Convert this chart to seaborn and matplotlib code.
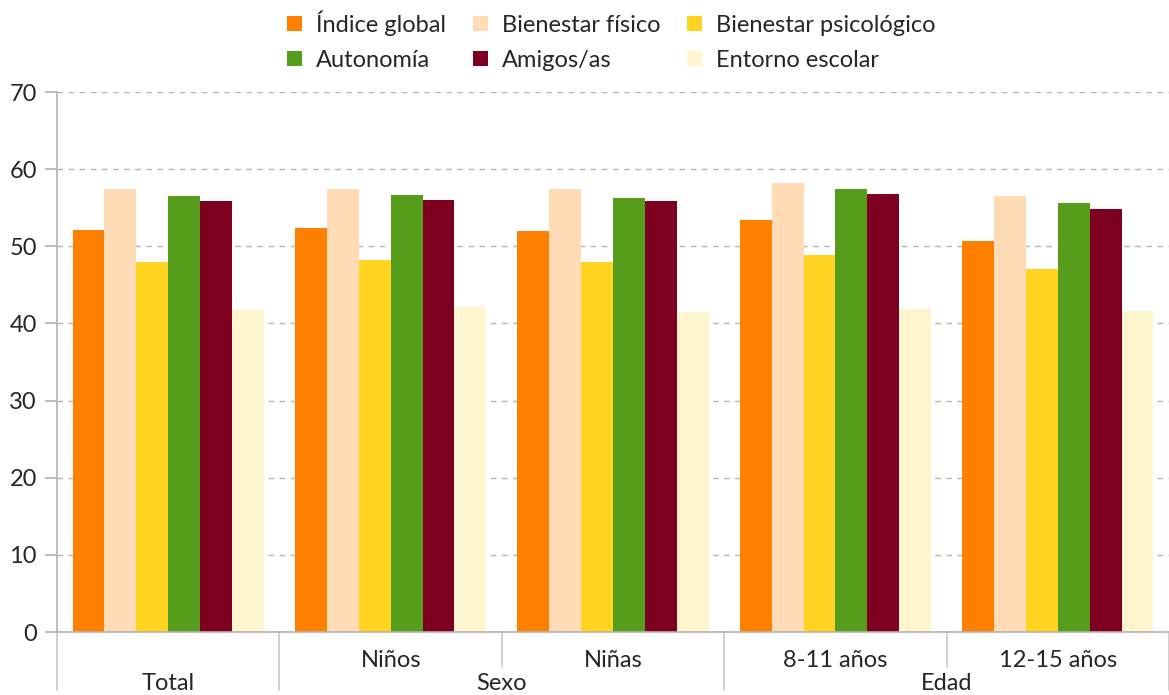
import pandas as pd
import seaborn as sns
import matplotlib.pyplot as plt
import matplotlib.transforms as mtransforms
from matplotlib.patches import Patch


grupos = ["Total", "Niños", "Niñas", "8-11 años", "12-15 años"]
nivel_superior = ["Total", "Sexo", "Sexo", "Edad", "Edad"]
etiquetas_inferiores = ["", "Niños", "Niñas", "8-11 años", "12-15 años"]

series = ["Índice global", "Bienestar físico", "Bienestar psicológico",
          "Autonomía", "Amigos/as", "Entorno escolar"]

indice_global = [52.1, 52.4, 52.0, 53.4, 50.7]
bienestar_fisico = [57.4, 57.4, 57.4, 58.2, 56.5]
bienestar_psicologico = [48.0, 48.2, 48.0, 48.9, 47.1]
autonomia = [56.5, 56.6, 56.3, 57.4, 55.6]
amigos = [55.9, 56.0, 55.9, 56.8, 54.9]
entorno_escolar = [41.7, 42.1, 41.5, 41.9, 41.6]

colores = ["#FF8000", "#FFDBB6", "#FFD320", "#579D1C", "#7E0021", "#FFF5CE"]

valores = [indice_global, bienestar_fisico, bienestar_psicologico,
           autonomia, amigos, entorno_escolar]
data = pd.DataFrame([
    {"grupo": g, "serie": s, "valor": v}
    for s, vals in zip(series, valores)
    for g, v in zip(grupos, vals)
])

sns.set_style("white")
plt.rcParams['font.family'] = ['Lato', 'DejaVu Sans']

fig = plt.figure(figsize=(11.69, 6.95), dpi=100)
ax = fig.add_axes([0.0488, 0.0906, 0.9512, 0.777])

sns.barplot(data=data, x="grupo", y="valor", hue="serie", order=grupos,
            hue_order=series, palette=colores, width=0.86, saturation=1,
            gap=0, errorbar=None, legend=False, linewidth=0, ax=ax)

ax.set_xlim(-0.5, len(grupos) - 0.5)
ax.set_ylim(0, 70)
ax.set_yticks(range(0, 71, 10))
ax.set_xlabel("")
ax.set_ylabel("")

ax.yaxis.grid(True, color="#b3b3b3", linestyle=(0, (4, 4)), linewidth=1)
ax.set_axisbelow(True)
for side in ["top", "right"]:
    ax.spines[side].set_visible(False)
for side in ["left", "bottom"]:
    ax.spines[side].set_color("#b3b3b3")
    ax.spines[side].set_linewidth(1.2)

ax.tick_params(axis="y", length=8.5, width=1.2, color="#b3b3b3",
               labelsize=17, pad=6, direction="out", left=True)
ax.set_xticks(range(len(grupos)))
ax.set_xticklabels(etiquetas_inferiores, fontsize=17)
ax.tick_params(axis="x", length=0, pad=13)

# multi-level category axis
trans = mtransforms.blended_transform_factory(ax.transData, ax.transAxes)
bordes = [i - 0.5 for i in range(len(grupos) + 1)]
for i, x in enumerate(bordes):
    if i == 0 or i == len(grupos) or nivel_superior[i - 1] != nivel_superior[i]:
        y_fin = -0.108
    else:
        y_fin = -0.065
    ax.plot([x, x], [0, y_fin], transform=trans, color="#c8c8c8",
            linewidth=1.2, clip_on=False)

for nombre in dict.fromkeys(nivel_superior):
    idx = [i for i, n in enumerate(nivel_superior) if n == nombre]
    centro = sum(idx) / len(idx)
    ax.text(centro, -0.095, nombre, transform=trans, ha="center",
            va="center", fontsize=17)

handles = [Patch(facecolor=c, edgecolor="none") for c in colores]
orden = [0, 3, 1, 4, 2, 5]
fig.legend([handles[i] for i in orden], [series[i] for i in orden],
           loc="upper center", bbox_to_anchor=(0.523, 1.016), ncol=3,
           frameon=False, fontsize=17, handlelength=0.62, handleheight=0.62,
           handletextpad=0.6, columnspacing=1.15, labelspacing=0.6)

plt.savefig("out.png", dpi=100)
